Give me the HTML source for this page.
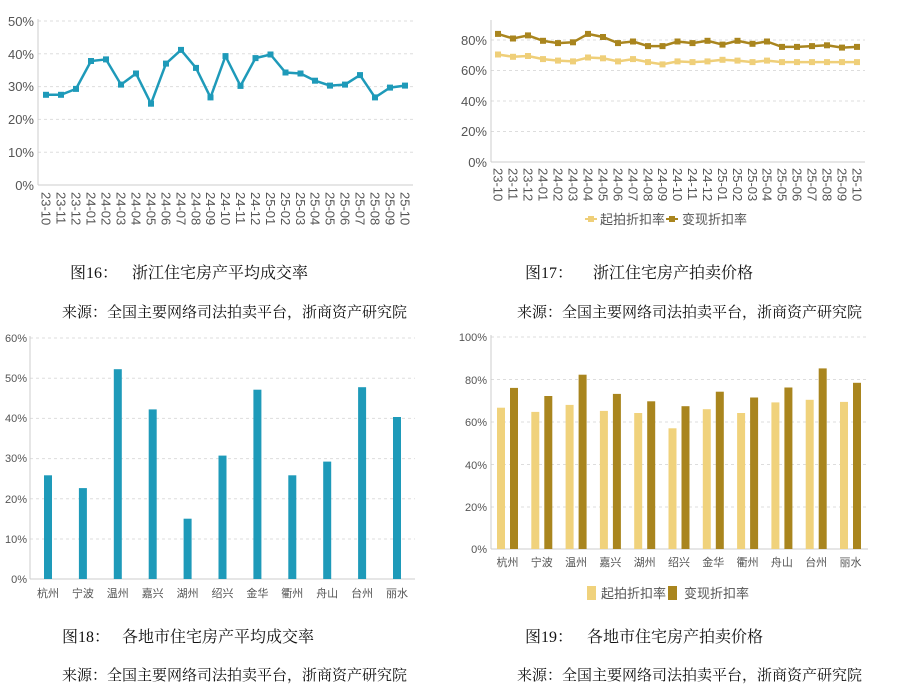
<!DOCTYPE html>
<html><head><meta charset="utf-8"><style>
body{margin:0;background:#fff;}
svg{display:block;}
.t{font-family:"Liberation Sans","Noto Sans CJK SC",sans-serif;fill:#555;}
.c{font-family:"Liberation Serif","Noto Serif CJK SC",serif;fill:#111;}
</style></head><body>
<svg width="900" height="689" viewBox="0 0 900 689" xmlns="http://www.w3.org/2000/svg">
<!-- Chart 1 -->
<g stroke="#ddd" stroke-dasharray="3,3" stroke-width="1">
<line x1="38" x2="413" y1="21" y2="21"/><line x1="38" x2="413" y1="53.8" y2="53.8"/><line x1="38" x2="413" y1="86.6" y2="86.6"/><line x1="38" x2="413" y1="119.4" y2="119.4"/><line x1="38" x2="413" y1="152.2" y2="152.2"/>
</g>
<line x1="38" x2="413" y1="185" y2="185" stroke="#ccc"/><line x1="38" x2="38" y1="19" y2="185" stroke="#ccc"/>
<g class="t" font-size="13" text-anchor="end">
<text x="34" y="26">50%</text><text x="34" y="59">40%</text><text x="34" y="91">30%</text><text x="34" y="124">20%</text><text x="34" y="157">10%</text><text x="34" y="190">0%</text>
</g>
<polyline fill="none" stroke="#1e9ab9" stroke-width="2.5" points="46,94.8 61,94.8 76,88.9 91,61 106,59.4 121,84.6 136,73.5 151,103.7 166,63.6 181,49.9 196,67.9 210.5,97.4 225.5,56.1 240.5,85.9 255.5,58.1 270.5,54.5 285.5,72.5 300.5,73.5 315,80.7 330,85.6 345,84.6 360,75.1 375,97.4 390,87.6 405,85.6"/>
<g fill="#1e9ab9">
<rect x="43" y="91.8" width="6" height="6"/><rect x="58" y="91.8" width="6" height="6"/><rect x="73" y="85.9" width="6" height="6"/><rect x="88" y="58" width="6" height="6"/><rect x="103" y="56.4" width="6" height="6"/><rect x="118" y="81.6" width="6" height="6"/><rect x="133" y="70.5" width="6" height="6"/><rect x="148" y="100.7" width="6" height="6"/><rect x="163" y="60.6" width="6" height="6"/><rect x="178" y="46.9" width="6" height="6"/><rect x="193" y="64.9" width="6" height="6"/><rect x="207.5" y="94.4" width="6" height="6"/><rect x="222.5" y="53.1" width="6" height="6"/><rect x="237.5" y="82.9" width="6" height="6"/><rect x="252.5" y="55.1" width="6" height="6"/><rect x="267.5" y="51.5" width="6" height="6"/><rect x="282.5" y="69.5" width="6" height="6"/><rect x="297.5" y="70.5" width="6" height="6"/><rect x="312" y="77.7" width="6" height="6"/><rect x="327" y="82.6" width="6" height="6"/><rect x="342" y="81.6" width="6" height="6"/><rect x="357" y="72.1" width="6" height="6"/><rect x="372" y="94.4" width="6" height="6"/><rect x="387" y="84.6" width="6" height="6"/><rect x="402" y="82.6" width="6" height="6"/>
</g>
<g class="t" font-size="13" dominant-baseline="central">
<text transform="translate(46,192) rotate(90)">23-10</text><text transform="translate(61,192) rotate(90)">23-11</text><text transform="translate(76,192) rotate(90)">23-12</text><text transform="translate(91,192) rotate(90)">24-01</text><text transform="translate(106,192) rotate(90)">24-02</text><text transform="translate(121,192) rotate(90)">24-03</text><text transform="translate(136,192) rotate(90)">24-04</text><text transform="translate(151,192) rotate(90)">24-05</text><text transform="translate(166,192) rotate(90)">24-06</text><text transform="translate(181,192) rotate(90)">24-07</text><text transform="translate(196,192) rotate(90)">24-08</text><text transform="translate(210.5,192) rotate(90)">24-09</text><text transform="translate(225.5,192) rotate(90)">24-10</text><text transform="translate(240.5,192) rotate(90)">24-11</text><text transform="translate(255.5,192) rotate(90)">24-12</text><text transform="translate(270.5,192) rotate(90)">25-01</text><text transform="translate(285.5,192) rotate(90)">25-02</text><text transform="translate(300.5,192) rotate(90)">25-03</text><text transform="translate(315,192) rotate(90)">25-04</text><text transform="translate(330,192) rotate(90)">25-05</text><text transform="translate(345,192) rotate(90)">25-06</text><text transform="translate(360,192) rotate(90)">25-07</text><text transform="translate(375,192) rotate(90)">25-08</text><text transform="translate(390,192) rotate(90)">25-09</text><text transform="translate(405,192) rotate(90)">25-10</text>
</g>

<!-- Chart 2 -->
<g stroke="#ddd" stroke-dasharray="3,3">
<line x1="491" x2="865" y1="40" y2="40"/><line x1="491" x2="865" y1="70.5" y2="70.5"/><line x1="491" x2="865" y1="101" y2="101"/><line x1="491" x2="865" y1="131.5" y2="131.5"/>
</g>
<line x1="491" x2="865" y1="162" y2="162" stroke="#ccc"/><line x1="491" x2="491" y1="20" y2="162" stroke="#ccc"/>
<g class="t" font-size="13" text-anchor="end">
<text x="487" y="45">80%</text><text x="487" y="75">60%</text><text x="487" y="106">40%</text><text x="487" y="136">20%</text><text x="487" y="167">0%</text>
</g>
<polyline fill="none" stroke="#a9851e" stroke-width="2.5" points="498,33.9 513,38.5 528,35.4 543,40.8 558,43.1 573,42.3 588,33.9 603,37 618,43.1 633,41.5 648,46.1 662.5,46.1 677.5,41.5 692.5,43.1 707.5,40.8 722.5,44.6 737.5,40.8 752.5,43.8 767,41.5 782,46.9 797,46.9 812,46.1 827,45.3 842,47.6 857,46.9"/>
<polyline fill="none" stroke="#efcf79" stroke-width="2.5" points="498,54.5 513,56.8 528,56 543,59.1 558,60.6 573,61.4 588,57.5 603,58.3 618,61.4 633,59.1 648,62.1 662.5,64.4 677.5,61.4 692.5,62.1 707.5,61.4 722.5,59.8 737.5,60.6 752.5,62.1 767,60.6 782,62.1 797,62.1 812,62.1 827,62.1 842,62.1 857,62.1"/>
<g fill="#a9851e">
<rect x="495" y="30.9" width="6" height="6"/><rect x="510" y="35.5" width="6" height="6"/><rect x="525" y="32.4" width="6" height="6"/><rect x="540" y="37.8" width="6" height="6"/><rect x="555" y="40.1" width="6" height="6"/><rect x="570" y="39.3" width="6" height="6"/><rect x="585" y="30.9" width="6" height="6"/><rect x="600" y="34" width="6" height="6"/><rect x="615" y="40.1" width="6" height="6"/><rect x="630" y="38.5" width="6" height="6"/><rect x="645" y="43.1" width="6" height="6"/><rect x="659.5" y="43.1" width="6" height="6"/><rect x="674.5" y="38.5" width="6" height="6"/><rect x="689.5" y="40.1" width="6" height="6"/><rect x="704.5" y="37.8" width="6" height="6"/><rect x="719.5" y="41.6" width="6" height="6"/><rect x="734.5" y="37.8" width="6" height="6"/><rect x="749.5" y="40.8" width="6" height="6"/><rect x="764" y="38.5" width="6" height="6"/><rect x="779" y="43.9" width="6" height="6"/><rect x="794" y="43.9" width="6" height="6"/><rect x="809" y="43.1" width="6" height="6"/><rect x="824" y="42.3" width="6" height="6"/><rect x="839" y="44.6" width="6" height="6"/><rect x="854" y="43.9" width="6" height="6"/>
</g>
<g fill="#efcf79">
<rect x="495" y="51.5" width="6" height="6"/><rect x="510" y="53.8" width="6" height="6"/><rect x="525" y="53" width="6" height="6"/><rect x="540" y="56.1" width="6" height="6"/><rect x="555" y="57.6" width="6" height="6"/><rect x="570" y="58.4" width="6" height="6"/><rect x="585" y="54.5" width="6" height="6"/><rect x="600" y="55.3" width="6" height="6"/><rect x="615" y="58.4" width="6" height="6"/><rect x="630" y="56.1" width="6" height="6"/><rect x="645" y="59.1" width="6" height="6"/><rect x="659.5" y="61.4" width="6" height="6"/><rect x="674.5" y="58.4" width="6" height="6"/><rect x="689.5" y="59.1" width="6" height="6"/><rect x="704.5" y="58.4" width="6" height="6"/><rect x="719.5" y="56.8" width="6" height="6"/><rect x="734.5" y="57.6" width="6" height="6"/><rect x="749.5" y="59.1" width="6" height="6"/><rect x="764" y="57.6" width="6" height="6"/><rect x="779" y="59.1" width="6" height="6"/><rect x="794" y="59.1" width="6" height="6"/><rect x="809" y="59.1" width="6" height="6"/><rect x="824" y="59.1" width="6" height="6"/><rect x="839" y="59.1" width="6" height="6"/><rect x="854" y="59.1" width="6" height="6"/>
</g>
<g class="t" font-size="13" dominant-baseline="central">
<text transform="translate(498,168) rotate(90)">23-10</text><text transform="translate(513,168) rotate(90)">23-11</text><text transform="translate(528,168) rotate(90)">23-12</text><text transform="translate(543,168) rotate(90)">24-01</text><text transform="translate(558,168) rotate(90)">24-02</text><text transform="translate(573,168) rotate(90)">24-03</text><text transform="translate(588,168) rotate(90)">24-04</text><text transform="translate(603,168) rotate(90)">24-05</text><text transform="translate(618,168) rotate(90)">24-06</text><text transform="translate(633,168) rotate(90)">24-07</text><text transform="translate(648,168) rotate(90)">24-08</text><text transform="translate(662.5,168) rotate(90)">24-09</text><text transform="translate(677.5,168) rotate(90)">24-10</text><text transform="translate(692.5,168) rotate(90)">24-11</text><text transform="translate(707.5,168) rotate(90)">24-12</text><text transform="translate(722.5,168) rotate(90)">25-01</text><text transform="translate(737.5,168) rotate(90)">25-02</text><text transform="translate(752.5,168) rotate(90)">25-03</text><text transform="translate(767,168) rotate(90)">25-04</text><text transform="translate(782,168) rotate(90)">25-05</text><text transform="translate(797,168) rotate(90)">25-06</text><text transform="translate(812,168) rotate(90)">25-07</text><text transform="translate(827,168) rotate(90)">25-08</text><text transform="translate(842,168) rotate(90)">25-09</text><text transform="translate(857,168) rotate(90)">25-10</text>
</g>
<line x1="585" x2="597" y1="219" y2="219" stroke="#efcf79" stroke-width="2"/><rect x="588" y="216" width="6" height="6" fill="#efcf79"/>
<text class="t" x="600" y="224" font-size="13" fill="#5a6b80">起拍折扣率</text>
<line x1="666" x2="678" y1="219" y2="219" stroke="#a9851e" stroke-width="2"/><rect x="669" y="216" width="6" height="6" fill="#a9851e"/>
<text class="t" x="682" y="224" font-size="13" fill="#5a6b80">变现折扣率</text>

<!-- captions top -->
<g class="c" font-size="16">
<text x="70" y="278">图16：</text><text x="132" y="278">浙江住宅房产平均成交率</text>
<text x="525" y="278">图17：</text><text x="593" y="278">浙江住宅房产拍卖价格</text>
</g>
<g class="c" font-size="15">
<text x="62" y="317">来源：全国主要网络司法拍卖平台，浙商资产研究院</text>
<text x="517" y="317">来源：全国主要网络司法拍卖平台，浙商资产研究院</text>
</g>

<!-- Chart 3 -->
<g stroke="#ddd" stroke-dasharray="3,3">
<line x1="30" x2="415" y1="338" y2="338"/><line x1="30" x2="415" y1="378.2" y2="378.2"/><line x1="30" x2="415" y1="418.4" y2="418.4"/><line x1="30" x2="415" y1="458.6" y2="458.6"/><line x1="30" x2="415" y1="498.8" y2="498.8"/><line x1="30" x2="415" y1="539" y2="539"/>
</g>
<line x1="30" x2="415" y1="579" y2="579" stroke="#ccc"/><line x1="30" x2="30" y1="336" y2="579" stroke="#ccc"/>
<g class="t" font-size="11" text-anchor="end">
<text x="27" y="342">60%</text><text x="27" y="382">50%</text><text x="27" y="422">40%</text><text x="27" y="462">30%</text><text x="27" y="503">20%</text><text x="27" y="543">10%</text><text x="27" y="583">0%</text>
</g>
<g fill="#1e9ab9">
<rect x="44" y="475.3" width="8" height="103.7"/><rect x="78.9" y="488.1" width="8" height="90.9"/><rect x="113.8" y="369.2" width="8" height="209.8"/><rect x="148.7" y="409.4" width="8" height="169.6"/><rect x="183.6" y="518.7" width="8" height="60.3"/><rect x="218.5" y="455.6" width="8" height="123.4"/><rect x="253.4" y="389.7" width="8" height="189.3"/><rect x="288.3" y="475.3" width="8" height="103.7"/><rect x="323.2" y="461.6" width="8" height="117.4"/><rect x="358.1" y="387.2" width="8" height="191.8"/><rect x="393" y="417" width="8" height="162"/>
</g>
<g class="t" font-size="11" text-anchor="middle">
<text x="48" y="597">杭州</text><text x="82.9" y="597">宁波</text><text x="117.8" y="597">温州</text><text x="152.7" y="597">嘉兴</text><text x="187.6" y="597">湖州</text><text x="222.5" y="597">绍兴</text><text x="257.4" y="597">金华</text><text x="292.3" y="597">衢州</text><text x="327.2" y="597">舟山</text><text x="362.1" y="597">台州</text><text x="397" y="597">丽水</text>
</g>

<!-- Chart 4 -->
<g stroke="#ddd" stroke-dasharray="3,3">
<line x1="491" x2="868" y1="337" y2="337"/><line x1="491" x2="868" y1="379.5" y2="379.5"/><line x1="491" x2="868" y1="422" y2="422"/><line x1="491" x2="868" y1="464.5" y2="464.5"/><line x1="491" x2="868" y1="507" y2="507"/>
</g>
<line x1="491" x2="868" y1="549" y2="549" stroke="#ccc"/><line x1="491" x2="491" y1="335" y2="549" stroke="#ccc"/>
<g class="t" font-size="11" text-anchor="end">
<text x="487" y="341">100%</text><text x="487" y="384">80%</text><text x="487" y="426">60%</text><text x="487" y="469">40%</text><text x="487" y="511">20%</text><text x="487" y="553">0%</text>
</g>
<g fill="#f0d27c">
<rect x="497" y="407.7" width="8" height="141.3"/><rect x="531.3" y="411.9" width="8" height="137.1"/><rect x="565.6" y="404.9" width="8" height="144.1"/><rect x="599.9" y="410.9" width="8" height="138.1"/><rect x="634.2" y="413" width="8" height="136"/><rect x="668.5" y="428.3" width="8" height="120.7"/><rect x="702.8" y="409.2" width="8" height="139.8"/><rect x="737.1" y="413" width="8" height="136"/><rect x="771.4" y="402.4" width="8" height="146.6"/><rect x="805.7" y="399.8" width="8" height="149.2"/><rect x="840" y="401.9" width="8" height="147.1"/>
</g>
<g fill="#a9851e">
<rect x="510" y="387.9" width="8" height="161.1"/><rect x="544.3" y="396" width="8" height="153"/><rect x="578.6" y="374.7" width="8" height="174.3"/><rect x="612.9" y="393.9" width="8" height="155.1"/><rect x="647.2" y="401.3" width="8" height="147.7"/><rect x="681.5" y="406.2" width="8" height="142.8"/><rect x="715.8" y="391.7" width="8" height="157.3"/><rect x="750.1" y="397.5" width="8" height="151.5"/><rect x="784.4" y="387.5" width="8" height="161.5"/><rect x="818.7" y="368.4" width="8" height="180.6"/><rect x="853" y="382.8" width="8" height="166.2"/>
</g>
<g class="t" font-size="11" text-anchor="middle">
<text x="507.5" y="566">杭州</text><text x="541.8" y="566">宁波</text><text x="576.1" y="566">温州</text><text x="610.4" y="566">嘉兴</text><text x="644.7" y="566">湖州</text><text x="679" y="566">绍兴</text><text x="713.3" y="566">金华</text><text x="747.6" y="566">衢州</text><text x="781.9" y="566">舟山</text><text x="816.2" y="566">台州</text><text x="850.5" y="566">丽水</text>
</g>
<rect x="587" y="586" width="9" height="14" fill="#f0d27c"/>
<text class="t" x="601" y="598" font-size="13" fill="#5a6b80">起拍折扣率</text>
<rect x="668" y="586" width="9" height="14" fill="#a9851e"/>
<text class="t" x="684" y="598" font-size="13" fill="#5a6b80">变现折扣率</text>

<!-- captions bottom -->
<g class="c" font-size="16">
<text x="62" y="642">图18：</text><text x="122" y="642">各地市住宅房产平均成交率</text>
<text x="525" y="642">图19：</text><text x="587" y="642">各地市住宅房产拍卖价格</text>
</g>
<g class="c" font-size="15">
<text x="62" y="680">来源：全国主要网络司法拍卖平台，浙商资产研究院</text>
<text x="517" y="680">来源：全国主要网络司法拍卖平台，浙商资产研究院</text>
</g>
</svg>
</body></html>
